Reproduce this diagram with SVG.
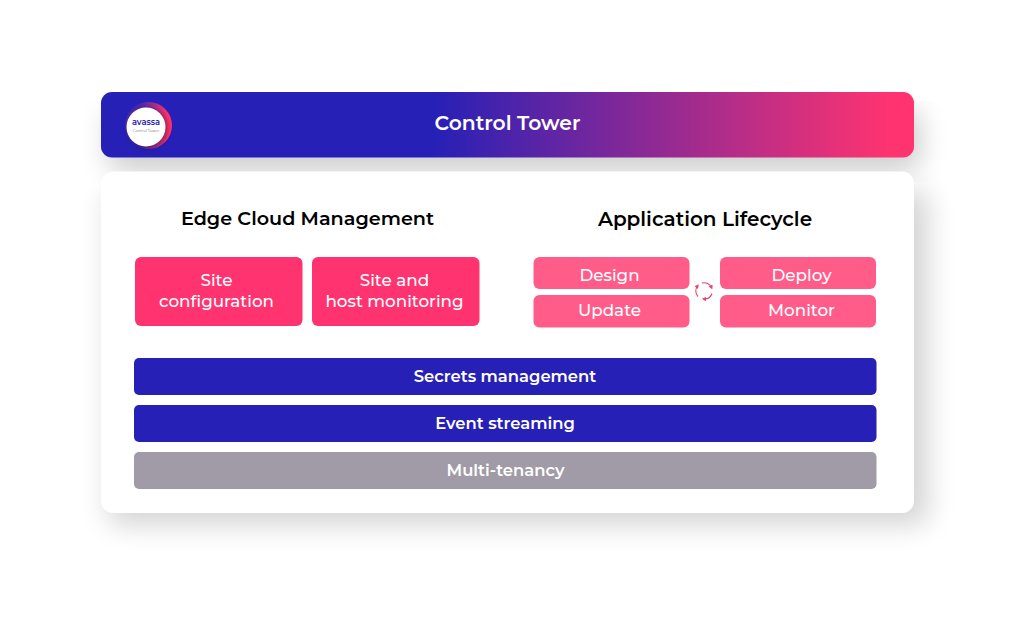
<svg xmlns="http://www.w3.org/2000/svg" width="1023" height="639" viewBox="0 0 1023 639">
<style>
text{font-family:Montserrat,"Inter","Open Sans","Liberation Sans",sans-serif;text-anchor:middle}
.b{fill:#fff;font-size:16.800px;font-weight:500}
.s{fill:#fff;font-size:16.400px;font-weight:600}
.h{fill:#000;font-weight:600}
.p{fill:#ff3370}.l{fill:#ff5c8a}.n{fill:#2720b6}.g{fill:#a09ba6}
</style>
<defs>
<linearGradient id="bar" x1="0" x2="1" y1="0" y2="0"><stop offset="0.41" stop-color="#2720b6"/><stop offset="0.97" stop-color="#ff3370"/></linearGradient>
<linearGradient id="ring" x1="0" x2="1" y1="0" y2="0"><stop offset="0.35" stop-color="#4a28ad"/><stop offset="0.9" stop-color="#ff3370"/></linearGradient>
<filter id="sh" x="-15%" y="-15%" width="130%" height="135%"><feGaussianBlur stdDeviation="14"/></filter>
<filter id="sh2" x="-30%" y="-30%" width="160%" height="160%"><feGaussianBlur stdDeviation="2.500"/></filter>
<marker id="ah" markerWidth="4" markerHeight="4" refX="2" refY="2" orient="auto"><path d="M0 0L4 2L0 4Z" fill="#e8436f"/></marker>
</defs>
<rect width="1023" height="639" fill="#fff"/>
<rect x="108" y="110" width="812" height="60" rx="12" fill="#000" opacity=".2" filter="url(#sh)"/>
<rect x="108" y="190" width="820" height="335" rx="12" fill="#000" opacity=".17" filter="url(#sh)"/>
<g id="control-tower">
<rect x="101" y="92" width="813" height="65.500" rx="11" fill="url(#bar)"/>
<circle cx="148.500" cy="125.500" r="23.500" fill="url(#ring)"/>
<circle cx="148" cy="128" r="20" fill="#000" opacity=".35" filter="url(#sh2)"/>
<circle cx="146" cy="127" r="19.500" fill="#fff"/>
<text x="146" y="125" style="font-size:8.300px;font-weight:600" fill="#2720b6">avassa</text>
<text x="146" y="131.500" style="font-size:3.800px" fill="#666">Control Tower</text>
<text x="507.500" y="129.500" style="font-size:20.300px;font-weight:600" fill="#fff">Control Tower</text>
</g>
<g id="panel">
<rect x="101" y="171.500" width="813" height="341.500" rx="12" fill="#fff"/>
<text class="h" x="307.500" y="225" style="font-size:19.200px">Edge Cloud Management</text>
<text class="h" x="705" y="226" style="font-size:20px">Application Lifecycle</text>
</g>
<g id="site-configuration"><rect class="p" x="135" y="257" width="167.500" height="69" rx="6"/><text class="b" x="216.500" y="286">Site</text><text class="b" x="216.500" y="307">configuration</text></g>
<g id="site-host-monitoring"><rect class="p" x="312" y="257" width="167.500" height="69" rx="6"/><text class="b" x="394.500" y="286">Site and</text><text class="b" x="394.500" y="307">host monitoring</text></g>
<g id="design"><rect class="l" x="533.500" y="257" width="156" height="32" rx="6"/><text class="b" x="609.500" y="280.500">Design</text></g>
<g id="update"><rect class="l" x="533.500" y="295" width="156" height="32.500" rx="6"/><text class="b" x="609.500" y="316">Update</text></g>
<g id="deploy"><rect class="l" x="720" y="257" width="156" height="32" rx="6"/><text class="b" x="801.500" y="280.500">Deploy</text></g>
<g id="monitor"><rect class="l" x="720" y="295" width="156" height="32.500" rx="6"/><text class="b" x="801.500" y="316">Monitor</text></g>
<g id="connectors" fill="none" stroke="#e8436f" stroke-width="1.100" marker-end="url(#ah)">
<path d="M702 283A8 8 0 0 1 711.500 287.500"/>
<path d="M712 293.500A8 8 0 0 1 704 299"/>
<path d="M698 296.500A8 8 0 0 1 697.500 286"/>
</g>
<g id="secrets"><rect class="n" x="134" y="358" width="742.500" height="37" rx="5"/><text class="s" x="505" y="381.500">Secrets management</text></g>
<g id="events"><rect class="n" x="134" y="405" width="742.500" height="37" rx="5"/><text class="s" x="505" y="428.500">Event streaming</text></g>
<g id="tenancy"><rect class="g" x="134" y="452" width="742.500" height="37" rx="5"/><text class="s" x="505.500" y="475.500">Multi-tenancy</text></g>
</svg>
